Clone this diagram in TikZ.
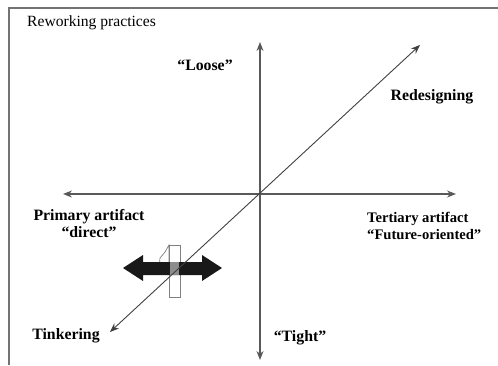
\documentclass[tikz,border=0pt]{standalone}
\usepackage{fontspec}
\setmainfont{Liberation Serif}
\usetikzlibrary{arrows.meta}
\begin{document}
\begin{tikzpicture}[x=1pt,y=-1pt,
  lbl/.style={font=\fontsize{15.8}{17}\selectfont\bfseries, inner sep=0pt},
  axis/.style={draw=black!65, line width=1.3pt, {Stealth[length=9pt,width=7pt]}-{Stealth[length=9pt,width=7pt]}},
  diag/.style={draw=black!75, line width=0.9pt, {Stealth[length=9pt,width=7pt]}-{Stealth[length=9pt,width=7pt]}},
  frame/.style={draw=black!55, line width=1.5pt},
  onebox/.style={draw=black!50, fill=white, line width=0.7pt}]
\useasboundingbox (0,0) rectangle (498,365);
% frame
\coordinate (fA) at (8,8);
\coordinate (fB) at (498,8);
\coordinate (fC) at (9,8);
\coordinate (fD) at (9,365);
\draw[frame] (fA) -- (fB);
\draw[frame] (fC) -- (fD);
% axes
\coordinate (vtop) at (260,42);
\coordinate (vbot) at (260,360);
\coordinate (hleft) at (63,194);
\coordinate (hright) at (456,194);
\coordinate (dtop) at (420,45);
\coordinate (dbot) at (110,332);
\draw[axis] (vbot) -- (vtop);
\draw[axis] (hleft) -- (hright);
% icon "1"
\draw[onebox] (169,245) -- (165,252) -- (160,258) -- (159,268) -- (169,266) -- cycle;
\draw[onebox] (169,245) rectangle (180,297);
% double arrow icon
\fill[black!90] (123,268) -- (143,255) -- (143,262) -- (202,262) -- (202,255) -- (222,268)
  -- (202,281) -- (202,275) -- (143,275) -- (143,281) -- cycle;
\fill[black!45] (170,262) rectangle (179,275);
\draw[diag] (dbot) -- (dtop);
% labels
\node[anchor=base west, inner sep=0pt, font=\fontsize{15.6}{18}\selectfont] (title) at (27,26) {Reworking practices};
\node[lbl, anchor=base] (loose) at (205,70) {“Loose”};
\node[lbl] (redesign) at (432,97) {Redesigning};
\node[lbl, align=center, anchor=base] (primary) at (89,237) {Primary artifact\\“direct”};
\node[lbl, font=\fontsize{14.6}{17}\selectfont\bfseries, align=left, anchor=base west] (tertiary) at (367,239) {Tertiary artifact\\“Future-oriented”};
\node[lbl, anchor=base] (tinker) at (66,339) {Tinkering};
\node[lbl, anchor=base] (tight) at (300,341) {“Tight”};
\end{tikzpicture}
\end{document}
